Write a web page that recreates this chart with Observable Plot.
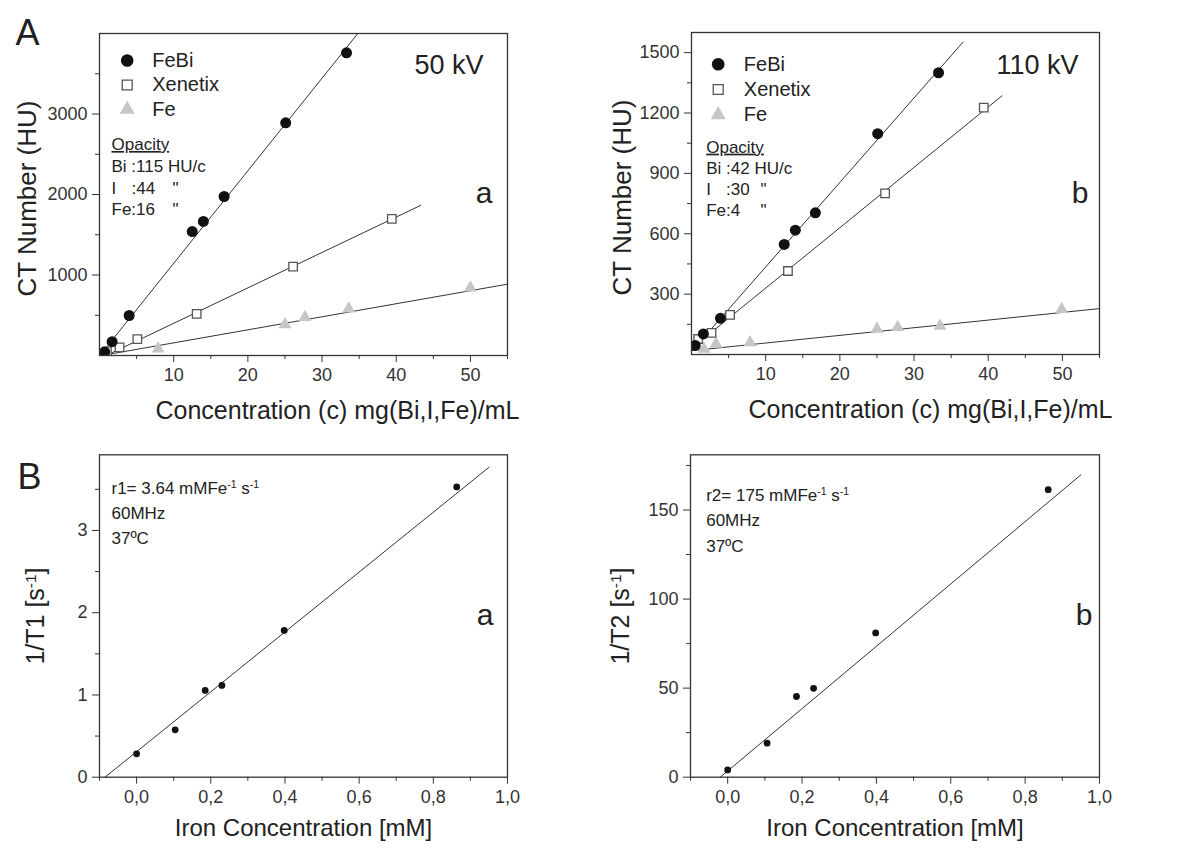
<!DOCTYPE html>
<html>
<head>
<meta charset="utf-8">
<script src="https://cdn.jsdelivr.net/npm/d3@7"></script>
<script src="https://cdn.jsdelivr.net/npm/@observablehq/plot@0.6"></script>
<style>
  html, body { margin: 0; padding: 0; background: #fff; }
  #fig { position: relative; width: 1179px; height: 850px; background: #fff; overflow: hidden; }
  #fig > svg { position: absolute; }
</style>
</head>
<body>
<div id="fig"></div>
<script>
// ---------- DATA ----------
// Panel A-a : 50 kV
const kv50FeBiX = [0.7, 1.7, 4.0, 12.5, 14.0, 16.8, 25.1, 33.3];
const kv50FeBiY = [45, 171, 497, 1540, 1665, 1975, 2890, 3760];
const kv50XenX = [1.0, 2.7, 5.1, 13.1, 26.1, 39.4];
const kv50XenY = [50, 100, 204, 518, 1105, 1698];
const kv50FeX = [1.0, 7.9, 25.0, 27.7, 33.6, 50.0];
const kv50FeY = [25, 83, 385, 476, 580, 841];
const kv50FitSlope = [115, 44, 16.2];
const kv50FitIntercept = [-5, -40, -5];
const kv50FitStart = [0.04, 0.9, 0.3];
const kv50FitEnd = [34.8, 43.3, 55];

// Panel A-b : 110 kV
const kv110FeBiX = [0.5, 1.6, 3.9, 12.5, 14.0, 16.7, 25.1, 33.3];
const kv110FeBiY = [45, 102, 180, 547, 618, 704, 1097, 1400];
const kv110XenX = [0.9, 2.7, 5.2, 13.0, 26.1, 39.4];
const kv110XenY = [77, 107, 197, 415, 801, 1227];
const kv110FeX = [1.7, 3.3, 7.9, 25.0, 27.8, 33.5, 49.9];
const kv110FeY = [27, 52, 60, 127, 135, 142, 225];
const kv110FitSlope = [42, 30, 3.8];
const kv110FitIntercept = [15, 30, 19];
const kv110FitStart = [0, 0, 0];
const kv110FitEnd = [36.6, 41.85, 55];

const seriesNames = ["FeBi", "Xenetix", "Fe"];

// Panel B-a : 1/T1
const t1X = [0.0, 0.104, 0.185, 0.23, 0.398, 0.863];
const t1Y = [0.284, 0.576, 1.055, 1.116, 1.785, 3.53];
const t1FitSlope = [3.64];
const t1FitIntercept = [0.31];
const t1FitStart = [-0.085];
const t1FitEnd = [0.95];

// Panel B-b : 1/T2
const t2X = [0.0, 0.106, 0.185, 0.231, 0.398, 0.862];
const t2Y = [4.1, 19.1, 45.3, 49.9, 81.0, 161.4];
const t2FitSlope = [175];
const t2FitIntercept = [3.5];
const t2FitStart = [-0.02];
const t2FitEnd = [0.95];

// Ticks
const ctXMajor = [10, 20, 30, 40, 50];
const ctXMinor = [5, 15, 25, 35, 45, 55];
const kv50YMajor = [1000, 2000, 3000];
const kv50YMinor = [500, 1500, 2500, 3500];
const kv110YMajor = [300, 600, 900, 1200, 1500];
const kv110YMinor = [150, 450, 750, 1050, 1350];
const mriXMajor = [0, 0.2, 0.4, 0.6, 0.8, 1.0];
const mriXMinor = [-0.1, 0.1, 0.3, 0.5, 0.7, 0.9];
const t1YMajor = [0, 1, 2, 3];
const t1YMinor = [0.5, 1.5, 2.5, 3.5];
const t2YMajor = [0, 50, 100, 150];
const t2YMinor = [25, 75, 125, 175];

// ---------- helpers ----------
const FONT = "'Liberation Sans', Arial, Helvetica, sans-serif";
const INK = "#222";
const commaFmt = d => d.toFixed(1).replace(".", ",");
const plainFmt = d => String(d);

const styles = {
  FeBi: {symbol: "circle", fill: "#111", r: 5.5},
  Xenetix: {symbol: "square", fill: "white", stroke: "#555", strokeWidth: 1.3, r: 4.8},
  Fe: {symbol: "triangle", fill: "#c6c6c6", r: 4.8},
  MRI: {symbol: "circle", fill: "#111", r: 3.4}
};

function rows(xs, ys, s) { return xs.map((x, i) => ({x, y: ys[i], s})); }
function fitRows(names, slope, icpt, start, end) {
  const out = [];
  names.forEach((s, i) => {
    out.push({s, x: start[i], y: slope[i] * start[i] + icpt[i]});
    out.push({s, x: end[i], y: slope[i] * end[i] + icpt[i]});
  });
  return out;
}
function txt(str, o) {
  return Plot.text([str], {text: d => d, fill: INK, fontFamily: FONT, lineAnchor: "middle", textAnchor: "middle", ...o});
}

function panel(cfg) {
  const marks = [
    Plot.axisX(cfg.xMinor, {tickSize: 4, tickFormat: () => "", stroke: "#333", label: null}),
    Plot.axisX(cfg.xMajor, {tickSize: 7, tickPadding: 6, tickFormat: cfg.xFmt || plainFmt, fontSize: 18, fill: "#333", stroke: "#333", label: null}),
    Plot.axisY(cfg.yMinor, {tickSize: 4, tickFormat: () => "", stroke: "#333", label: null}),
    Plot.axisY(cfg.yMajor, {tickSize: 7, tickPadding: 5, tickFormat: plainFmt, fontSize: 18, fill: "#333", stroke: "#333", label: null}),
    Plot.line(cfg.fits, {x: "x", y: "y", z: "s", stroke: "#333", strokeWidth: 1}),
    ...cfg.series.map(([data, st]) => Plot.dot(data, {x: "x", y: "y", ...styles[st], clip: true})),
    Plot.frame({stroke: "#333", strokeWidth: 1.3}),
    ...cfg.texts
  ];
  const svg = Plot.plot({
    width: cfg.width, height: cfg.height,
    marginTop: cfg.mt, marginRight: cfg.mr, marginBottom: cfg.mb, marginLeft: cfg.ml,
    x: {domain: cfg.xDomain},
    y: {domain: cfg.yDomain},
    style: {fontFamily: FONT, fontSize: "17px", color: INK, background: "transparent", overflow: "visible"},
    marks
  });
  svg.style.left = cfg.left + "px";
  svg.style.top = cfg.top + "px";
  // superscripts (^-1) and underline
  svg.querySelectorAll("text").forEach(t => {
    const s = t.textContent;
    if (s.includes("^")) {
      t.textContent = "";
      s.split(/(\^-1)/).forEach(part => {
        if (!part) return;
        const ts = document.createElementNS("http://www.w3.org/2000/svg", "tspan");
        if (part === "^-1") {
          ts.textContent = "-1";
          ts.setAttribute("baseline-shift", "super");
          ts.setAttribute("font-size", "62%");
        } else ts.textContent = part;
        t.appendChild(ts);
      });
    }
    if (s === "Opacity") t.style.textDecoration = "underline";
  });
  document.getElementById("fig").appendChild(svg);
}

function legend(dx0, dxT, dys) {
  const out = [];
  seriesNames.forEach((name, i) => {
    out.push(Plot.dot([name], {frameAnchor: "top-left", dx: dx0, dy: dys[i], ...styles[name], r: styles[name].r + 0.8}));
    out.push(txt(name, {frameAnchor: "top-left", dx: dxT, dy: dys[i], textAnchor: "start", fontSize: 20}));
  });
  return out;
}

// ---------- Panel A-a ----------
panel({
  left: 0, top: 0, width: 590, height: 425, mt: 33, mr: 83, mb: 70, ml: 99,
  xDomain: [0, 55], yDomain: [0, 4000],
  xMajor: ctXMajor, xMinor: ctXMinor, yMajor: kv50YMajor, yMinor: kv50YMinor,
  fits: fitRows(seriesNames, kv50FitSlope, kv50FitIntercept, kv50FitStart, kv50FitEnd),
  series: [[rows(kv50FeX, kv50FeY, "Fe"), "Fe"], [rows(kv50XenX, kv50XenY, "Xenetix"), "Xenetix"], [rows(kv50FeBiX, kv50FeBiY, "FeBi"), "FeBi"]],
  texts: [
    txt("A", {frameAnchor: "top-left", dx: -84, dy: 0, textAnchor: "start", fontSize: 36}),
    txt("50 kV", {frameAnchor: "top-right", dx: -24, dy: 32, textAnchor: "end", fontSize: 27}),
    txt("a", {frameAnchor: "top-right", dx: -15, dy: 160, textAnchor: "end", fontSize: 30}),
    ...legend(27.7, 52.7, [27, 51.5, 76]),
    txt("Opacity", {frameAnchor: "top-left", dx: 12, dy: 111, textAnchor: "start", fontSize: 17}),
    txt("Bi :115 HU/c", {frameAnchor: "top-left", dx: 12, dy: 132.7, textAnchor: "start", fontSize: 17}),
    txt("I", {frameAnchor: "top-left", dx: 12, dy: 154.7, textAnchor: "start", fontSize: 17}),
    txt(":44", {frameAnchor: "top-left", dx: 32, dy: 154.7, textAnchor: "start", fontSize: 17}),
    txt("\"", {frameAnchor: "top-left", dx: 73, dy: 154.7, textAnchor: "start", fontSize: 17}),
    txt("Fe:16", {frameAnchor: "top-left", dx: 12, dy: 175.7, textAnchor: "start", fontSize: 17}),
    txt("\"", {frameAnchor: "top-left", dx: 73, dy: 175.7, textAnchor: "start", fontSize: 17}),
    txt("CT Number (HU)", {frameAnchor: "left", dx: -72, dy: 4, rotate: -90, fontSize: 26}),
    txt("Concentration (c) mg(Bi,I,Fe)/mL", {frameAnchor: "bottom", dx: 34, dy: 55, fontSize: 25})
  ]
});

// ---------- Panel A-b ----------
panel({
  left: 590, top: 0, width: 589, height: 425, mt: 32, mr: 80, mb: 71, ml: 101,
  xDomain: [0, 55], yDomain: [0, 1600],
  xMajor: ctXMajor, xMinor: ctXMinor, yMajor: kv110YMajor, yMinor: kv110YMinor,
  fits: fitRows(seriesNames, kv110FitSlope, kv110FitIntercept, kv110FitStart, kv110FitEnd),
  series: [[rows(kv110FeX, kv110FeY, "Fe"), "Fe"], [rows(kv110XenX, kv110XenY, "Xenetix"), "Xenetix"], [rows(kv110FeBiX, kv110FeBiY, "FeBi"), "FeBi"]],
  texts: [
    txt("110 kV", {frameAnchor: "top-right", dx: -21, dy: 33, textAnchor: "end", fontSize: 27}),
    txt("b", {frameAnchor: "top-right", dx: -11, dy: 161, textAnchor: "end", fontSize: 30}),
    ...legend(26.7, 52.3, [31.7, 57, 82.3]),
    txt("Opacity", {frameAnchor: "top-left", dx: 14.7, dy: 114.7, textAnchor: "start", fontSize: 17}),
    txt("Bi :42 HU/c", {frameAnchor: "top-left", dx: 14.7, dy: 135.7, textAnchor: "start", fontSize: 17}),
    txt("I", {frameAnchor: "top-left", dx: 14.7, dy: 157, textAnchor: "start", fontSize: 17}),
    txt(":30", {frameAnchor: "top-left", dx: 34.6, dy: 157, textAnchor: "start", fontSize: 17}),
    txt("\"", {frameAnchor: "top-left", dx: 69, dy: 157, textAnchor: "start", fontSize: 17}),
    txt("Fe:4", {frameAnchor: "top-left", dx: 14.7, dy: 178, textAnchor: "start", fontSize: 17}),
    txt("\"", {frameAnchor: "top-left", dx: 69, dy: 178, textAnchor: "start", fontSize: 17}),
    txt("CT Number (HU)", {frameAnchor: "left", dx: -68.5, dy: 4, rotate: -90, fontSize: 26}),
    txt("Concentration (c) mg(Bi,I,Fe)/mL", {frameAnchor: "bottom", dx: 35, dy: 55, fontSize: 25})
  ]
});

// ---------- Panel B-a ----------
panel({
  left: 0, top: 425, width: 590, height: 425, mt: 29.3, mr: 83, mb: 73.3, ml: 99,
  xDomain: [-0.1, 1.0], yDomain: [0, 3.92],
  xMajor: mriXMajor, xMinor: mriXMinor, yMajor: t1YMajor, yMinor: t1YMinor, xFmt: commaFmt,
  fits: fitRows(["T1"], t1FitSlope, t1FitIntercept, t1FitStart, t1FitEnd),
  series: [[rows(t1X, t1Y, "MRI"), "MRI"]],
  texts: [
    txt("B", {frameAnchor: "top-left", dx: -82, dy: 22.7, textAnchor: "start", fontSize: 36}),
    txt("a", {frameAnchor: "top-right", dx: -14, dy: 161, textAnchor: "end", fontSize: 30}),
    txt("r1= 3.64 mMFe^-1 s^-1", {frameAnchor: "top-left", dx: 12, dy: 34, textAnchor: "start", fontSize: 17}),
    txt("60MHz", {frameAnchor: "top-left", dx: 12, dy: 59, textAnchor: "start", fontSize: 17}),
    txt("37ºC", {frameAnchor: "top-left", dx: 12, dy: 84, textAnchor: "start", fontSize: 17}),
    txt("1/T1 [s^-1]", {frameAnchor: "left", dx: -64, dy: 0, rotate: -90, fontSize: 25}),
    txt("Iron Concentration [mM]", {frameAnchor: "bottom", dx: 0, dy: 51, fontSize: 24})
  ]
});

// ---------- Panel B-b ----------
panel({
  left: 590, top: 425, width: 589, height: 425, mt: 29.3, mr: 80, mb: 73.3, ml: 100,
  xDomain: [-0.1, 1.0], yDomain: [0, 181],
  xMajor: mriXMajor, xMinor: mriXMinor, yMajor: t2YMajor, yMinor: t2YMinor, xFmt: commaFmt,
  fits: fitRows(["T2"], t2FitSlope, t2FitIntercept, t2FitStart, t2FitEnd),
  series: [[rows(t2X, t2Y, "MRI"), "MRI"]],
  texts: [
    txt("b", {frameAnchor: "top-right", dx: -7, dy: 161, textAnchor: "end", fontSize: 30}),
    txt("r2= 175 mMFe^-1 s^-1", {frameAnchor: "top-left", dx: 15.7, dy: 40.7, textAnchor: "start", fontSize: 17}),
    txt("60MHz", {frameAnchor: "top-left", dx: 15.7, dy: 65.7, textAnchor: "start", fontSize: 17}),
    txt("37ºC", {frameAnchor: "top-left", dx: 15.7, dy: 91.7, textAnchor: "start", fontSize: 17}),
    txt("1/T2 [s^-1]", {frameAnchor: "left", dx: -69.5, dy: 0, rotate: -90, fontSize: 25}),
    txt("Iron Concentration [mM]", {frameAnchor: "bottom", dx: 0, dy: 51, fontSize: 24})
  ]
});
</script>
</body>
</html>
